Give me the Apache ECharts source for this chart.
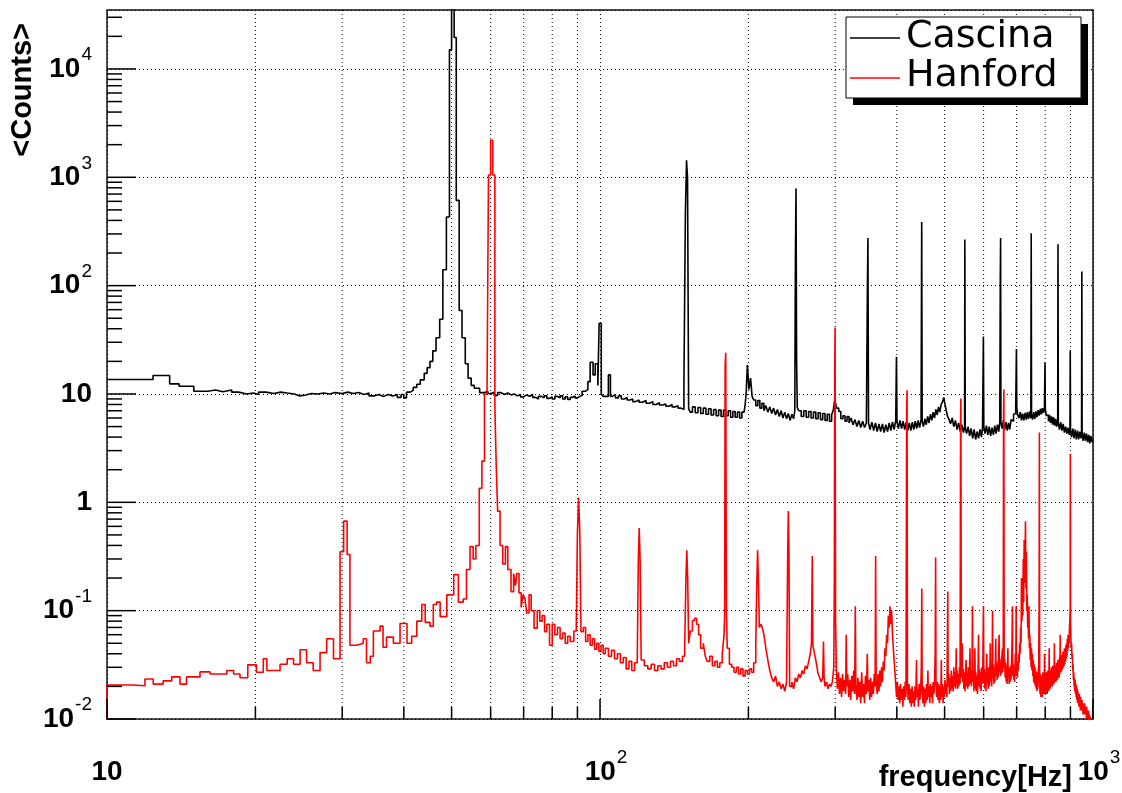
<!DOCTYPE html>
<html>
<head>
<meta charset="utf-8">
<script src="https://cdn.jsdelivr.net/npm/echarts/dist/echarts.min.js"></script>
<style>
  html, body { margin: 0; padding: 0; background: #fff; }
  #chart { width: 1122px; height: 793px; }
</style>
</head>
<body>
<div id="chart"></div>
<script>
// ---- data: [frequency (Hz), <Counts>] — each value holds until the next frequency (histogram bins)
const cascina = [
 [10,13.6],[12.4,14.8],[13.4,12.4],[14.0,11.8],[15.0,10.6],[16.0,10.9],[16.6,10.5],[17.2,10.9],[17.9,10.4],
 [18.5,10.0],[19.2,10.2],[19.8,9.9],[20.3,10.4],[21.0,10.1],[21.8,10.4],[22.5,10.2],[23.2,10.0],[24.0,9.6],
 [24.6,9.8],[25.3,10.1],[26.0,10.0],[26.8,10.2],[27.5,10.0],[28.3,10.3],[29.0,10.1],[30.0,10.4],[30.8,10.1],
 [31.6,10.3],[32.4,9.9],[33.2,10.2],[34.0,9.6],[34.8,9.9],[35.6,9.5],[36.4,9.9],[37.2,9.6],[38.0,9.9],
 [38.8,9.3],[39.5,9.9],[40.0,9.2],[40.5,10.4],[41.2,10.8],[41.8,11.5],[42.5,12.3],[43.2,13.5],[44.0,15.5],
 [44.6,17.5],[45.2,20],[45.8,25],[46.5,33],[47.3,49],[48.0,140],[48.8,430],[49.5,15000],[50.0,60000],
 [50.6,19500],[51.1,612],[51.8,59],[52.5,33],[53.3,19],[54.0,14],[54.8,12],[55.6,11.3],[57.0,10.3],
 [58.4,10.6],[59.2,10.1],[60.2,10.4],[61.0,9.7],[62.0,10.3],[63.0,9.9],[64.0,10.2],[65.0,9.8],[66.0,10.0],
 [67.0,9.6],[68.0,9.9],[69.0,9.4],[70.0,9.8],[71.0,9.5],[72.0,9.9],[73.0,9.3],[74.0,9.0],[75.0,9.5],
 [76.0,9.2],[77.0,9.6],[78.0,9.1],[79.0,9.4],[80.0,9.0],[81.0,9.5],[82.0,9.2],[83.0,9.6],[84.0,9.0],
 [85.0,9.4],[86.0,8.9],[87.0,9.3],[88.0,9.6],[89.0,9.2],[90.0,9.5],[91.0,9.7],[92.0,10.6],[93.5,11],
 [94.5,13],[95.5,19.6],[96.8,15],[97.8,19],[99.0,12],[99.6,45],[100.6,10],[101.5,9.5],[104.0,15],
 [105.0,9.5],[106.0,9.9],[107.5,9.2],[109,9.6],[110.5,9.0],[112,9.3],[113.5,8.8],[115,9.0],[116.5,8.5],
 [118,8.8],[120,8.4],[122,8.7],[124,8.2],[126,8.5],[128,8.0],[130,8.3],[132,7.9],[134,8.1],[136,7.7],
 [138,8.0],[140,7.6],[142,7.8],[144,7.4],[146,7.6],[147.2,7.2],[148.0,13],[149.0,460],[149.8,1437],
 [150.5,1000],[151.3,7.3],[152.5,6.8],[154,7.6],[156,6.7],[158,7.5],[160,6.6],[162,7.4],[164,6.5],
 [166,7.3],[168,6.4],[170,7.2],[172,6.3],[174,7.1],[176,6.2],[178,7.1],[180,6.3],[182,7.0],[184,6.1],
 [186,6.9],[188,6.1],[190,6.8],[192,6.0],[194,6.8],[196,6.9],[197,8.0],[198,10.5],[199,18.6],[200.5,11],
 [202,14],[203.5,9.5],[205,8.8],[207,7.8],[209,8.7],[211,7.4],[213,8.2],[215,7.0],[217,7.8],[219,6.8],
 [221,7.6],[223,6.6],[225,7.4],[227,6.4],[229,7.2],[231,6.2],[233,7.0],[235,6.0],[237,6.8],[239,5.9],
 [241,6.6],[243,5.7],[245,6.5],[247,5.9],[248.4,7],[249.1,178],[249.8,790],[250.5,20],[251.3,7.5],
 [253,7.0],[256,6.2],[259,7.0],[262,6.1],[265,6.9],[268,6.0],[271,6.8],[274,5.9],[277,6.7],[280,5.8],
 [283,6.6],[286,5.7],[289,6.5],[292,5.6],[295,6.4],[297.5,7.2],[299,8.6],[300.6,8.2],[302,7.4],
 [305,6.9],[308,5.9],[311,6.3],[314,5.6],[317,6.2],[320,5.4],[323,6.0],[326,5.2],[329,5.8],[332,5.0],
 [335,5.7],[338,4.9],[341,5.6],[344,4.9],[347,5.4],[348.5,74],[349.5,275],[350.5,5.4],[353,4.7],
 [356,5.5],[359,4.6],[362,5.4],[365,4.5],[368,5.3],[371,4.5],[374,5.3],[377,4.4],[380,5.2],[383,4.5],
 [386,5.4],[389,4.6],[392,5.5],[395,4.7],[398,5.7],[399.3,22],[400.3,5.6],[403,4.8],[406,5.7],
 [409,4.8],[412,5.6],[415,4.7],[418,5.5],[421,4.6],[424,5.4],[427,4.6],[430,5.5],[433,4.7],[436,5.6],
 [439,4.8],[442,5.7],[445,4.9],[448,5.8],[449.3,386],[450.3,5.6],[453,5.0],[456,5.9],[459,5.2],
 [462,6.2],[465,5.4],[468,6.5],[471,5.7],[474,6.8],[477,6.0],[480,7.2],[483,6.4],[486,7.6],[489,6.8],
 [492,8.0],[495,8.4],[498,9.3],[501,8.0],[504,7.0],[507,6.2],[510,5.9],[514,5.3],[518,6.0],[522,5.0],
 [526,5.7],[530,4.7],[534,5.4],[538,4.5],[542,5.2],[546,4.4],[549,5.0],[549.6,266],[550.6,4.9],
 [554,4.3],[558,5.0],[562,4.1],[566,4.8],[570,3.9],[574,4.7],[578,3.8],[582,4.5],[586,3.9],[590,4.7],
 [594,4.0],[597,4.9],[599.3,34],[600.5,5.0],[604,4.3],[608,5.1],[612,4.2],[616,5.0],[620,4.1],
 [624,4.9],[628,4.2],[632,5.1],[636,4.3],[640,5.2],[644,4.5],[647,5.5],[648.5,107],[649.5,275],
 [650.5,5.5],[654,4.8],[658,5.7],[662,4.7],[666,5.5],[670,4.6],[674,5.4],[678,4.7],[682,5.8],[686,5.6],
 [690,6.5],[694,6.6],[697,7.4],[699.3,26],[700.5,7.4],[704,6.3],[708,6.0],[712,6.8],[716,5.7],
 [720,6.6],[724,5.7],[728,6.7],[732,5.8],[736,6.8],[740,5.9],[744,6.9],[748,6.0],[749.3,305],
 [750.5,6.4],[754,5.8],[758,6.8],[762,5.9],[766,6.9],[770,6.1],[774,7.1],[778,6.3],[782,7.3],[786,6.5],
 [790,7.4],[794,6.7],[797,7.4],[799.2,19.5],[800.5,7.2],[804,6.3],[808,6.4],[812,5.6],[816,6.4],
 [820,5.4],[824,6.2],[828,5.2],[832,6.1],[836,5.1],[840,5.9],[844,5.0],[848,5.8],[849.2,241],
 [850.5,5.4],[855,4.7],[860,5.5],[865,4.6],[870,5.3],[875,4.4],[880,5.0],[885,4.3],[890,4.9],[895,4.2],
 [898,4.8],[899.2,25],[900.5,4.6],[905,4.0],[910,4.8],[915,3.9],[920,4.7],[925,3.8],[930,4.6],
 [935,3.8],[940,4.5],[945,3.9],[948,4.4],[949.2,135],[950.5,4.2],[955,3.7],[960,4.4],[965,3.7],
 [970,4.3],[975,3.6],[980,4.2],[985,3.5],[990,4.1],[995,3.6],[1000,3.8]
];

const hanford = [
 [10,0.001],[10,0.0206],[11.3,0.0203],[11.94,0.0234],[12.41,0.021],[13.0,0.0225],[13.53,0.0245],
 [14.06,0.021],[14.5,0.0245],[15.44,0.0272],[16.18,0.026],[17.5,0.028],[18.06,0.026],[18.61,0.024],
 [19.3,0.0316],[20.1,0.027],[20.75,0.036],[21.1,0.028],[22.44,0.032],[23.2,0.036],[23.9,0.032],
 [24.64,0.0436],[25.4,0.033],[26.2,0.028],[27.05,0.041],[27.9,0.055],[28.8,0.036],[29.7,0.35],
 [30.2,0.67],[30.7,0.33],[31.1,0.048],[32.1,0.05],[33.1,0.055],[33.6,0.033],[34.2,0.038],[34.7,0.065],
 [35.8,0.072],[36.3,0.046],[36.9,0.057],[38.1,0.05],[39.3,0.076],[40.6,0.05],[41.5,0.058],[42.5,0.08],
 [43.5,0.114],[44.2,0.078],[45.2,0.072],[45.9,0.114],[46.6,0.12],[47.4,0.088],[48.9,0.14],[50.5,0.215],
 [51.6,0.12],[52.8,0.128],[53.6,0.24],[54.5,0.39],[55.3,0.3],[56.0,0.4],[56.9,1.35],[57.6,2.4],
 [58.3,10],[59.0,10],[59.4,1050],[60.0,2200],[60.6,1050],[61.2,7.7],[61.6,2.1],[62.0,0.83],[62.7,0.4],
 [63.5,0.27],[64.3,0.39],[65.0,0.24],[66.0,0.15],[66.8,0.22],[67.4,0.17],[67.8,0.22],[68.5,0.146],
 [69.2,0.107],[69.8,0.14],[70.4,0.13],[71.0,0.095],[71.8,0.14],[72.5,0.1],[73.5,0.069],[74.6,0.1],
 [75.5,0.08],[76.3,0.09],[77.2,0.064],[78.0,0.075],[79.0,0.048],[80.0,0.075],[81.0,0.06],[82.0,0.07],
 [83.0,0.055],[84.0,0.062],[85.0,0.05],[86.0,0.058],[87.0,0.052],[88.5,0.065],[89.5,0.07],[90.0,0.53],
 [90.5,1.1],[91.0,0.53],[91.5,0.064],[92.5,0.07],[93.5,0.052],[94.5,0.06],[95.5,0.048],[96.5,0.055],
 [97.5,0.044],[98.5,0.05],[99.5,0.042],[100.5,0.048],[101.5,0.04],[102.5,0.045],[104,0.038],
 [105.5,0.043],[107,0.036],[108.5,0.04],[110,0.033],[111.5,0.037],[113,0.029],[114.5,0.034],[116,0.028],
 [117.5,0.033],[119,0.035],[119.6,0.29],[120.1,0.58],[120.6,0.29],[121.2,0.035],[123,0.031],[125,0.029],
 [127,0.032],[129,0.028],[131,0.031],[133,0.029],[135,0.033],[137,0.03],[139,0.034],[141,0.031],
 [143,0.036],[145,0.034],[147,0.038],[148.5,0.045],[149.4,0.2],[150.0,0.36],[150.6,0.2],[151.3,0.05],
 [152.5,0.065],[154,0.081],[155.5,0.085],[157,0.075],[158.5,0.06],[160,0.045],[162,0.05],[163.5,0.038],
 [165,0.034],[167,0.038],[169,0.031],[171,0.034],[173,0.03],[175,0.033],[177,0.04],[178.5,0.06],
 [179.0,0.095],[179.4,18],[179.9,24],[180.5,0.095],[181.2,0.045],[183,0.032],[185,0.03],[187,0.027],
 [189,0.03],[191,0.026],[193,0.029],[195,0.025],[197,0.028],[199,0.026],[201,0.029],[203,0.027],
 [205,0.033],[207,0.05],[208,0.18],[208.8,0.36],[209.6,0.18],[210.5,0.07],[212,0.075],[213.5,0.069],
 [215,0.06],[217,0.045],[219,0.035],[221,0.028],[223,0.024],[225,0.022],[227,0.025],[229,0.02],
 [231,0.022],[233,0.019],[235,0.021],[237,0.018],[239,0.022],[240.3,0.35],[241.0,0.83],[241.7,0.35],
 [242.5,0.02],[245,0.022],[247,0.019],[249,0.024],[251,0.022],[253,0.026],[255,0.024],[257,0.028],
 [259,0.026],[261,0.031],[263,0.029],[265,0.034],[267,0.04],[268.5,0.05],[269.5,0.32],[270.3,0.047],
 [271.5,0.043],[273,0.038],[275,0.032],[277,0.026],[279,0.024],[281,0.022],[283,0.024],[284,0.052],
 [284.8,0.024],[286,0.02],[288,0.022],[290,0.019],[292,0.021],[294,0.02],[296,0.022],[298,0.03],
 [298.8,0.22],[299.3,17],[299.8,41],[300.5,0.085],
 [301.5,0.03],[303,0.019],[304.5,0.027],[306,0.017],[307.5,0.024],[309,0.016],[310.5,0.026],[312,0.018],
 [313.5,0.023],[315,0.017],[315.8,0.06],[316.6,0.02],[318,0.026],[319.5,0.016],[321,0.023],[322.5,0.015],
 [324,0.025],[325.5,0.018],[327,0.028],[328.5,0.017],[329.5,0.11],[330.3,0.021],[332,0.015],[333.5,0.024],
 [335,0.016],[336.5,0.022],[338,0.014],[339.5,0.027],[341,0.016],[342.5,0.021],[344,0.014],[345.5,0.025],
 [347,0.017],[348.5,0.04],[349.3,0.018],[351,0.023],[352.5,0.015],[354,0.024],[355.5,0.016],[357,0.022],
 [358.5,0.017],[360,0.026],[361.5,0.02],[362.3,0.32],[363.2,0.022],[365,0.017],[366.5,0.026],[368,0.018],
 [369.5,0.028],[371,0.02],[372.5,0.03],[374,0.022],[375.5,0.034],[377,0.028],[378.5,0.045],[380,0.038],
 [381.5,0.06],[383,0.05],[384.5,0.09],[386,0.07],[387.5,0.11],[389,0.075],[390.5,0.1],[392,0.06],
 [393.5,0.045],[395,0.035],[396.5,0.027],[398,0.021],[399.5,0.016],[401,0.022],[402.5,0.015],[404,0.02],
 [405.5,0.014],[407,0.021],[408.5,0.015],[410,0.019],[411.5,0.013],[413,0.02],[414.5,0.015],[416,0.022],
 [417.5,0.016],[418.8,6.7],[419.6,10.8],[420.4,0.02],[422,0.015],[423.5,0.021],[425,0.014],[426.5,0.019],
 [428,0.013],[429.5,0.02],[431,0.014],[432.5,0.018],[434,0.013],[435.5,0.02],[437,0.015],[438.5,0.035],
 [439.3,0.016],[441,0.019],[442.5,0.013],[444,0.021],[445.5,0.015],[447,0.018],[448.5,0.03],[449.5,0.16],
 [450.3,0.018],[452,0.014],[453.5,0.02],[455,0.013],[456.5,0.019],[458,0.014],[459.5,0.021],[461,0.015],
 [462.5,0.028],[463.3,0.016],[465,0.02],[466.5,0.014],[468,0.021],[469.5,0.016],[471,0.02],[472.5,0.014],
 [474,0.022],[475.5,0.017],[477,0.021],[478.5,0.04],[479.5,0.31],[480.4,0.021],[482,0.016],[483.5,0.022],
 [485,0.015],[486.5,0.021],[488,0.014],[489.5,0.02],[491,0.015],[492.5,0.035],[493.3,0.016],[495,0.021],
 [496.5,0.014],[498,0.02],[499.5,0.016],[501,0.023],[502.5,0.017],[504,0.021],[505.5,0.016],[507.5,0.15],
 [508.4,0.02],[510,0.026],[511.5,0.017],[513,0.024],[514.5,0.018],[516,0.028],[517.5,0.019],[519,0.025],
 [520.5,0.018],[522,0.03],[523.5,0.02],[525,0.027],[526.5,0.019],[528,0.045],[528.8,0.021],[530,0.028],
 [531.5,0.019],[533,0.026],[534.5,0.02],[536,0.03],[537.5,0.021],[538.8,6.0],[539.6,9.1],[540.4,0.024],
 [542,0.03],[543,0.05],[544,0.022],[545.5,0.029],[547,0.019],[548.5,0.027],[550,0.018],[551.5,0.028],
 [553,0.035],[554,0.02],[555.5,0.027],[557,0.019],[558.5,0.03],[560,0.02],[561.5,0.026],[563,0.045],
 [564,0.021],[565.5,0.028],[567,0.02],[568.5,0.03],[569.5,0.11],[570.5,0.022],[572,0.028],[573.5,0.018],
 [575,0.026],[576,0.045],[577,0.019],[578.5,0.027],[580,0.018],[581.5,0.025],[583,0.017],[584.5,0.028],
 [586,0.06],[587,0.02],[588.5,0.029],[590,0.019],[591.5,0.027],[593,0.018],[594.5,0.03],[596,0.021],
 [597.5,0.028],[599.5,0.11],[600.6,0.022],[602,0.029],[603.5,0.019],[605,0.027],[606.5,0.018],[608,0.03],
 [609,0.04],[610,0.021],[611.5,0.028],[613,0.019],[614.5,0.03],[616,0.02],[617.5,0.027],[619,0.05],
 [620,0.022],[621.5,0.03],[623,0.02],[624.5,0.035],[625.5,0.1],[626.5,0.024],[628,0.032],[629.5,0.021],
 [631,0.03],[632.5,0.022],[634,0.035],[635,0.055],[636,0.025],[637.5,0.034],[639,0.023],[640.5,0.032],
 [642,0.024],[643.5,0.04],[645,0.06],[646,0.027],[647.5,0.036],[649,0.025],[650.5,0.034],[652,0.026],
 [653.5,0.038],[655,0.045],[656,0.027],[657.5,0.032],[658.6,6.5],[659.5,11],[660.4,0.03],[662,0.036],
 [663.5,0.024],[665,0.033],[666.5,0.022],[668,0.031],[669.5,0.021],[671,0.03],[672,0.045],[673,0.024],
 [674.5,0.03],[676,0.021],[677.5,0.029],[679,0.022],[680.5,0.031],[682,0.023],[683.5,0.03],[685,0.05],
 [686.5,0.11],[687.5,0.025],[689,0.032],[690.5,0.023],[692,0.03],[693.5,0.022],[695,0.034],[696,0.04],
 [697,0.025],[698.5,0.11],[699.5,0.028],[701,0.034],[702.5,0.024],[704,0.032],[705.5,0.028],[707,0.04],
 [708.5,0.033],[710,0.05],[711.5,0.04],[713,0.07],[714.5,0.05],[716,0.2],[717.5,0.08],[719,0.13],
 [720.5,0.09],[722,0.3],[723.5,0.12],[725,0.45],[726.5,0.18],[728,0.25],[729.5,0.67],[731,0.16],
 [732.5,0.35],[734,0.1],[735.5,0.14],[737,0.07],[738.5,0.09],[740,0.055],[741.5,0.11],[743,0.045],
 [744.5,0.06],[746,0.035],[747.5,0.05],[749,0.03],[750.5,0.045],[752,0.028],[753.5,0.04],[755,0.025],
 [756.5,0.035],[758,0.022],[759.5,0.032],[761,0.021],[762.5,0.03],[764,0.02],[765.5,0.028],[767,0.019],
 [768.5,0.027],[770,0.018],[771.5,0.026],[773,0.019],[774.5,0.028],[776,0.03],[777.5,0.12],[778.5,4.4],
 [779.5,0.022],[781,0.017],[782.5,0.026],[784,0.016],[785.5,0.025],[787,0.017],[788.5,0.024],[790,0.016],
 [791.5,0.027],[793,0.018],[794.5,0.025],[796,0.017],[797.5,0.04],[798.3,0.018],[800,0.026],[801.5,0.017],
 [803,0.027],[804.5,0.018],[806,0.025],[807.5,0.017],[809,0.028],[810.5,0.019],[812,0.026],[813.5,0.018],
 [815,0.045],[815.8,0.019],[817,0.028],[818.5,0.019],[820,0.027],[821.5,0.02],[823,0.03],[824.5,0.021],
 [826,0.028],[827.5,0.02],[829,0.031],[830.5,0.022],[832,0.029],[833.5,0.021],[835,0.05],[835.8,0.023],
 [837,0.031],[838.5,0.022],[840,0.03],[841.5,0.022],[843,0.033],[844.5,0.024],[846,0.031],[847.5,0.023],
 [849,0.035],[850.5,0.025],[852,0.034],[853.5,0.024],[855,0.037],[856.5,0.026],[858,0.06],[858.8,0.027],
 [860,0.036],[861.5,0.027],[863,0.039],[864.5,0.028],[866,0.037],[867.5,0.029],[869,0.042],[870.5,0.03],
 [872,0.04],[873.5,0.031],[875,0.045],[876.5,0.032],[878,0.043],[879.5,0.034],[881,0.048],[882.5,0.036],
 [884,0.05],[885.5,0.038],[887,0.055],[888.5,0.042],[890,0.06],[891.5,0.045],[893,0.058],[894.5,0.05],
 [896,0.07],[897.5,0.08],[899,0.11],[899.6,2.8],[900.6,0.08],[902,0.055],[903.5,0.045],[905,0.05],
 [906.5,0.036],[908,0.04],[909.5,0.028],[911,0.032],[912.5,0.023],[914,0.027],[915.5,0.02],[917,0.024],
 [918.5,0.018],[920,0.023],[921.5,0.017],[923,0.021],[924.5,0.016],[926,0.02],[927.5,0.015],[929,0.019],
 [930.5,0.014],[932,0.018],[933.5,0.014],[935,0.017],[936.5,0.013],[938,0.017],[939.5,0.013],[941,0.016],
 [942.5,0.012],[944,0.016],[945.5,0.012],[947,0.015],[948.5,0.012],[950,0.015],[951.5,0.012],[953,0.014],
 [954.5,0.011],[956,0.014],[957.5,0.011],[959,0.013],[960.5,0.011],[962,0.014],[963.5,0.011],[965,0.013],
 [966.5,0.011],[968,0.013],[969.5,0.01],[971,0.013],[972.5,0.011],[974,0.012],[975.5,0.01],[977,0.012],
 [978.5,0.01],[980,0.012],[981.5,0.0098],[983,0.011],[985,0.0097],[987,0.0105],[990,0.0096],[993,0.01],
 [996,0.0094],[1000,0.0094]
];

// ---- axes
const xMin = 10, xMax = 1000;
const yMin = 0.01, yMax = 35000;
const xTickValues = [10, 100, 1000];
const xTickLabels = ['10', '10^2', '10^3'];
const xMinorTicks = [20, 30, 40, 50, 60, 70, 80, 90, 200, 300, 400, 500, 600, 700, 800, 900];
const yTickValues = [0.01, 0.1, 1, 10, 100, 1000, 10000];
const yTickLabels = ['10^-2', '10^-1', '1', '10', '10^2', '10^3', '10^4'];
const yMinorMultipliers = [2, 3, 4, 5, 6, 7, 8, 9];

const seriesNames = ['Cascina', 'Hanford'];
const seriesColors = ['#000000', '#ff0000'];

const yMinorTicks = [];
yTickValues.forEach(d => yMinorMultipliers.forEach(m => { if (d * m < yMax) yMinorTicks.push(d * m); }));

function labelFormatter(values, labels, padBase) {
  return function (v) {
    for (let i = 0; i < values.length; i++) {
      if (Math.abs(v - values[i]) <= values[i] * 1e-6) {
        const parts = labels[i].split('^');
        if (parts.length === 1) return '{b|' + parts[0] + '}';
        return '{' + (padBase ? 'bp' : 'b') + '|' + parts[0] + '}{s|' + parts[1] + '}';
      }
    }
    return '';
  };
}

const FONT = 'Liberation Sans, Arial, Helvetica, sans-serif';
const rich = {
  b: { fontFamily: FONT, fontWeight: 'bold', fontSize: 28, color: '#000' },
  bp: { fontFamily: FONT, fontWeight: 'bold', fontSize: 28, color: '#000', padding: [0, 0, 0, 12] },
  s: { fontFamily: FONT, fontSize: 19, color: '#000', padding: [0, 0, 28, 1] }
};

const tickItems = [];
xTickValues.forEach(v => tickItems.push([v, yMin, 20, 0]));
xMinorTicks.forEach(v => tickItems.push([v, yMin, 12, 0]));
yTickValues.forEach(v => tickItems.push([xMin, v, 29, 1]));
yMinorTicks.forEach(v => tickItems.push([xMin, v, 15, 1]));

const minorGridItems = xMinorTicks.map(v => [v, yMin]);

const chart = echarts.init(document.getElementById('chart'), null, { renderer: 'canvas' });

const option = {
  animation: false,
  backgroundColor: '#ffffff',
  grid: {
    left: 107, right: 29, top: 10, bottom: 74,
    containLabel: false, outerBoundsMode: 'none',
    show: true, borderColor: '#111', borderWidth: 1.5, backgroundColor: 'transparent'
  },
  xAxis: {
    type: 'log', logBase: 10, min: xMin, max: xMax,
    name: 'frequency[Hz]',
    nameLocation: 'end',
    nameGap: -21,
    nameMoveOverlap: false,
    nameTextStyle: {
      fontFamily: FONT, fontWeight: 'bold', fontSize: 29, color: '#000',
      align: 'right', verticalAlign: 'top', padding: [44, 0, 0, 0]
    },
    axisLine: { show: false },
    axisTick: { show: false },
    splitLine: { show: true, lineStyle: { color: '#000', width: 1, type: [1, 3] } },
    axisLabel: {
      formatter: labelFormatter(xTickValues, xTickLabels, true),
      rich: rich, margin: 53, verticalAlign: 'middle'
    }
  },
  yAxis: {
    type: 'log', logBase: 10, min: yMin, max: yMax,
    name: '<Counts>',
    nameLocation: 'end',
    nameGap: -13,
    nameRotate: 90,
    nameMoveOverlap: false,
    nameTextStyle: {
      fontFamily: FONT, fontWeight: 'bold', fontSize: 29, color: '#000',
      align: 'right', verticalAlign: 'bottom', padding: [0, 0, 70, 0]
    },
    axisLine: { show: false },
    axisTick: { show: false },
    splitLine: { show: true, lineStyle: { color: '#000', width: 1, type: [1, 3] } },
    axisLabel: {
      formatter: labelFormatter(yTickValues, yTickLabels, false),
      rich: rich, margin: 15
    }
  },
  graphic: [
    { type: 'rect', shape: { x: 853, y: 24, width: 235, height: 81 }, style: { fill: '#000' }, z: 100 },
    { type: 'rect', shape: { x: 846, y: 17, width: 235, height: 81 }, style: { fill: '#fff', stroke: '#000', lineWidth: 1 }, z: 101 },
    { type: 'line', shape: { x1: 850, y1: 38, x2: 900, y2: 38 }, style: { stroke: seriesColors[0], lineWidth: 1.6 }, z: 102 },
    { type: 'line', shape: { x1: 850, y1: 78, x2: 900, y2: 78 }, style: { stroke: seriesColors[1], lineWidth: 1.6 }, z: 102 },
    { type: 'text', x: 906, y: 37, style: { text: seriesNames[0], fill: '#000', font: '38px "DejaVu Sans", sans-serif', align: 'left', verticalAlign: 'middle' }, z: 102 },
    { type: 'text', x: 906, y: 76, style: { text: seriesNames[1], fill: '#000', font: '38px "DejaVu Sans", sans-serif', align: 'left', verticalAlign: 'middle' }, z: 102 }
  ],
  series: [
    {
      type: 'custom', name: 'minorGrid', silent: true, z: 1,
      data: minorGridItems,
      renderItem: function (params, api) {
        const p0 = api.coord([api.value(0), yMin]);
        const p1 = api.coord([api.value(0), yMax]);
        return { type: 'line', shape: { x1: p0[0], y1: p0[1], x2: p1[0], y2: p1[1] },
                 style: { stroke: '#000', lineWidth: 1, lineDash: [1, 3] } };
      }
    },
    {
      name: seriesNames[0], type: 'line', step: 'end', data: cascina,
      showSymbol: false, symbol: 'none', z: 3, clip: true,
      lineStyle: { color: seriesColors[0], width: 1.6 }, itemStyle: { color: seriesColors[0] }
    },
    {
      name: seriesNames[1], type: 'line', step: 'end', data: hanford,
      showSymbol: false, symbol: 'none', z: 4, clip: true,
      lineStyle: { color: seriesColors[1], width: 1.6 }, itemStyle: { color: seriesColors[1] }
    },
    {
      type: 'custom', name: 'ticks', silent: true, z: 5,
      data: tickItems,
      renderItem: function (params, api) {
        const p = api.coord([api.value(0), api.value(1)]);
        const len = api.value(2);
        const shape = api.value(3) === 0
          ? { x1: p[0], y1: p[1], x2: p[0], y2: p[1] - len }
          : { x1: p[0], y1: p[1], x2: p[0] + len, y2: p[1] };
        return { type: 'line', shape: shape, style: { stroke: '#000', lineWidth: 1.5 } };
      }
    }
  ]
};
chart.setOption(option);
</script>
</body>
</html>
